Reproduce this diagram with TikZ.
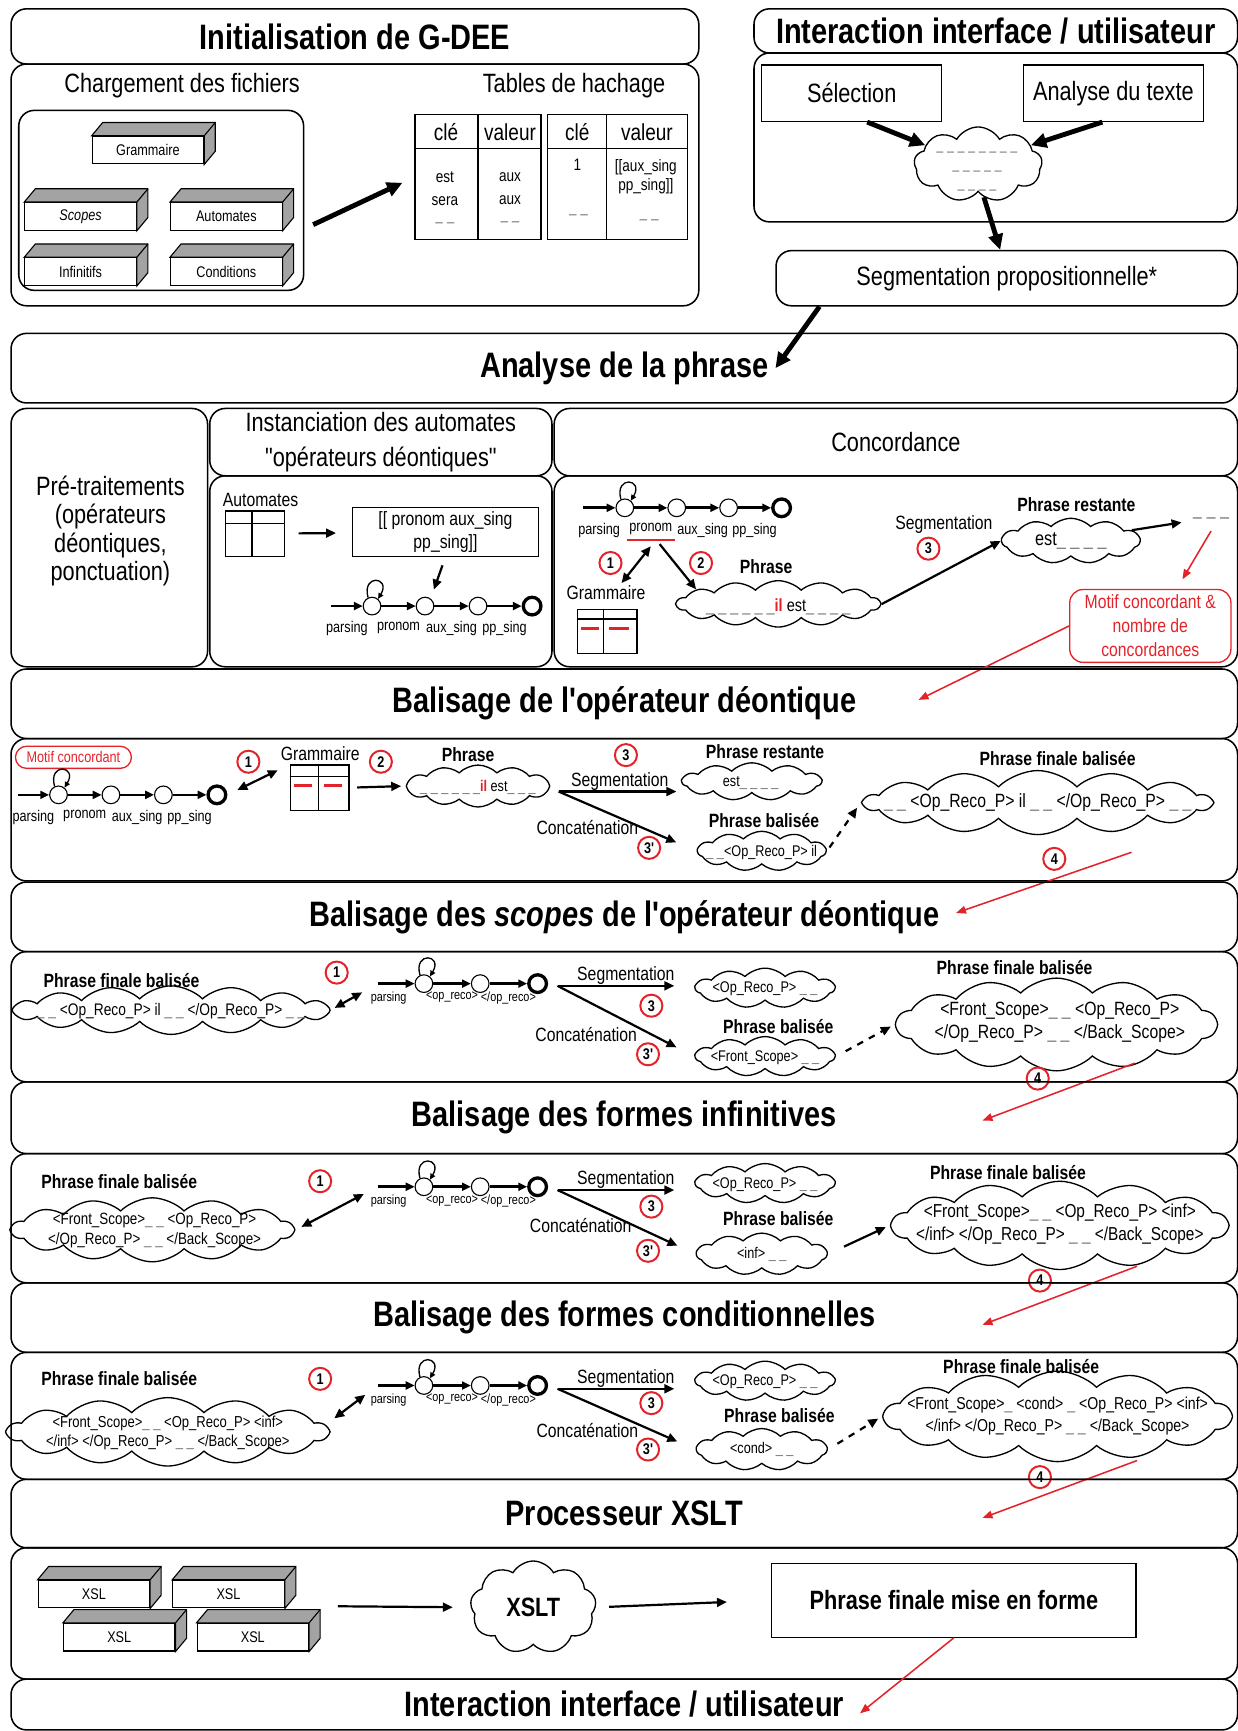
\documentclass[tikz,border=0pt]{standalone}
\usepackage{fontspec}
\setmainfont{Liberation Sans}[FakeStretch=0.82, Ligatures=TeXOff]
\usepackage{xcolor}
\usepackage{tikz}
\usetikzlibrary{arrows.meta,positioning,fit,shapes.symbols}
\definecolor{accent}{HTML}{E3232A}
\definecolor{shade}{HTML}{A3A3A3}
\definecolor{muted}{HTML}{7A7A7A}

\newcommand{\gaps}[1]{\textcolor{muted}{#1}}
\newcommand{\boxdepth}[1]{%
  \filldraw[fill=shade, line width=0.5pt] (#1.north west) -- ++(10,-12)
    -- ([shift={(10,-12)}]#1.north east) -- ([shift={(10,-12)}]#1.south east)
    -- (#1.south east) -- (#1.north east) -- cycle;
  \draw[line width=0.5pt] (#1.north east) -- ++(10,-12);}

\begin{document}
\begin{tikzpicture}[x=0.5pt, y=-0.5pt,
    panel/.style={draw, line width=0.7pt, rounded corners=7pt, inner sep=0pt},
    plainbox/.style={draw, line width=0.6pt, inner sep=0pt},
    title/.style={font=\fontsize{16}{19}\selectfont\bfseries, inner sep=0pt},
    heading/.style={font=\fontsize{12}{14}\selectfont, inner sep=0pt},
    colhead/.style={font=\fontsize{10.5}{12}\selectfont, inner sep=0pt},
    cell/.style={font=\fontsize{7.5}{10.25}\selectfont, align=center, inner sep=0pt},
    lbl/.style={font=\fontsize{8.7}{10.6}\selectfont, inner sep=1pt},
    lblbold/.style={font=\fontsize{8.7}{10.6}\selectfont\bfseries, inner sep=1pt},
    smalltext/.style={font=\fontsize{7}{8.5}\selectfont, inner sep=0pt},
    cloudtext/.style={font=\fontsize{7}{8.5}\selectfont, inner sep=0pt, align=center},
    filebox/.style={draw, fill=white, line width=0.5pt, minimum width=50.5pt,
      minimum height=12.5pt, inner sep=0pt, font=\fontsize{7}{8}\selectfont},
    statenode/.style={circle, draw, fill=white, line width=0.5pt, minimum size=8pt, inner sep=0pt},
    finalstate/.style={statenode, line width=1.5pt},
    autolbl/.style={below=6pt, font=\fontsize{7}{8}\selectfont, inner sep=0.5pt},
    oplbl/.style={below=3pt, font=\fontsize{6}{7}\selectfont, inner sep=0.3pt},
    trans/.style={-{Triangle[length=4pt,width=3.6pt]}, line width=1.2pt},
    looparrow/.style={-{Triangle[length=2.6pt,width=2.4pt]}, line width=0.6pt},
    arrow/.style={-{Triangle[length=4.5pt,width=4pt]}, line width=1pt},
    twoway/.style={{Triangle[length=4.5pt,width=4pt]}-{Triangle[length=4.5pt,width=4pt]}, line width=1pt},
    bigarrow/.style={-{Triangle[length=7pt,width=6.5pt]}, line width=2.2pt},
    redarrow/.style={-{Triangle[length=4.5pt,width=3.5pt]}, draw=accent, line width=0.7pt},
    stepmark/.style={circle, draw=accent, fill=white, line width=0.9pt, minimum size=10pt,
      inner sep=0pt, font=\fontsize{7}{8}\selectfont\bfseries},
    puff/.style={cloud, draw, cloud puffs=11, cloud puff arc=90, cloud ignores aspect,
      inner sep=0pt, line width=0.6pt},
    bigpuff/.style={puff, cloud puffs=14},
    roundpuff/.style={puff, cloud puffs=9, cloud puff arc=120}
  ]
  \useasboundingbox (0,0) rectangle (1121,1568);

  % initialisation
  \node[panel, fit={(10,8) (633,58)}] (inithead) {};
  \node[title] (inittitle) at (inithead) {Initialisation de G-DEE};
  \node[panel, fit={(10,58) (633,277)}] (initbody) {};
  \node[heading] (loadtitle) at (165,78) {Chargement des fichiers};
  \node[heading] (hashtitle) at (520,78) {Tables de hachage};
  \node[panel, fit={(17,100) (275,263)}] (files) {};
  \node[filebox] (grammar) at (134,136) {Grammaire};
  \node[filebox] (scopes) at (73,196) {\itshape Scopes};
  \node[filebox] (automata) at (205,196) {Automates};
  \node[filebox] (infinit) at (73,246) {Infinitifs};
  \node[filebox] (conds) at (205,246) {Conditions};
  \boxdepth{grammar}\boxdepth{scopes}\boxdepth{automata}\boxdepth{infinit}\boxdepth{conds}

  \node[plainbox, fit={(376,104) (490,217)}] (hash1) {};
  \node[plainbox, fit={(496,104) (623,217)}] (hash2) {};
  \draw[line width=0.6pt] (hash1.north) -- (hash1.south);
  \draw[line width=0.6pt] ([yshift=-15.5pt]hash1.north west) -- ([yshift=-15.5pt]hash1.north east);
  \draw[line width=0.6pt] ([xshift=27pt]hash2.north west) -- ([xshift=27pt]hash2.south west);
  \draw[line width=0.6pt] ([yshift=-15.5pt]hash2.north west) -- ([yshift=-15.5pt]hash2.north east);
  \node[colhead] (key1) at (404,120) {clé};
  \node[colhead] (val1) at (462,120) {valeur};
  \node[colhead] (key2) at (523,120) {clé};
  \node[colhead] (val2) at (586,120) {valeur};
  \node[cell] (keys1) at (403,181) {est\\sera\\\gaps{– –}};
  \node[cell] (vals1) at (462,181) {aux\\aux\\\gaps{– –}};
  \node[cell] (keys2) at (523,149) {1};
  \node[cell] (more2) at (524,197) {\gaps{– –}};
  \node[cell, font=\fontsize{7.5}{8.5}\selectfont] (vals2) at (585,160) {[[aux\_sing\\pp\_sing]]};
  \node[cell] (more3) at (588,201) {\gaps{– –}};
  \draw[bigarrow, shorten >=6pt] ([shift={(8,22)}]files.east) -- (hash1.west);

  % interaction interface / utilisateur
  \node[panel, fit={(683,8) (1121,48)}] (uihead) {};
  \node[title] (uititle) at (uihead) {Interaction interface / utilisateur};
  \node[panel, fit={(683,48) (1121,201)}] (uibody) {};
  \node[plainbox, fit={(690,59) (853,110)}] (select) {};
  \node[heading] (selecttext) at (select) {Sélection};
  \node[plainbox, fit={(927,59) (1090,110)}] (analyse) {};
  \node[heading] (analysetext) at (analyse) {Analyse du texte};
  \node[roundpuff, minimum width=58pt, minimum height=34pt] (draft) at (886,149) {};
  \node[text=muted, font=\fontsize{7}{8.75}\selectfont, align=center, inner sep=0pt]
    (drafttext) at (885,157) {– – – – – – – –\\– – – – –\\– – – –};
  \node[panel, fit={(703,227) (1121,277)}] (segprop) {};
  \node[heading] (segproptext) at (segprop) {Segmentation propositionnelle*};
  \draw[bigarrow] ([xshift=7pt]select.south) -- (draft.160);
  \draw[bigarrow] ([xshift=-5pt]analyse.south) -- (draft.20);
  \draw[bigarrow] (draft.-80) -- ([xshift=-3pt]segprop.north);

  % analyse de la phrase
  \node[panel, fit={(10,302) (1121,365)}] (phrasepanel) {};
  \node[title] (phrasetitle) at (phrasepanel) {Analyse de la phrase};
  \draw[bigarrow] ([xshift=20pt]segprop.south west) -- ([xshift=3pt]phrasetitle.east);

  % pre-traitements et instanciation
  \node[panel, fit={(10,370) (188,604)}] (pretreat) {};
  \node[heading, align=center, font=\fontsize{12}{12.9}\selectfont] (pretreattext) at (100,481)
    {Pré-traitements\\(opérateurs\\déontiques,\\ponctuation)};
  \node[panel, fit={(190,370) (500,431)}] (insthead) {};
  \node[heading, align=center, font=\fontsize{12}{16}\selectfont] (insttitle) at (insthead)
    {Instanciation des automates\\"opérateurs déontiques"};
  \node[panel, fit={(190,431) (500,604)}] (instbody) {};
  \node[lbl] (insttabtitle) at (236,453) {Automates};
  \node[plainbox, fit={(204,463) (258,504)}] (insttable) {};
  \draw[line width=0.6pt] ([yshift=-6pt]insttable.north west) -- ([yshift=-6pt]insttable.north east);
  \draw[line width=0.6pt] ([xshift=12.5pt]insttable.north west) -- ([xshift=12.5pt]insttable.south west);
  \node[plainbox, fit={(319,460) (488,504)}] (pattern) {};
  \node[lbl, align=center] (patterntext) at (pattern) {[[ pronom aux\_sing\\pp\_sing]]};
  \draw[arrow, shorten <=6pt, shorten >=7pt] (insttable) -- (pattern);
  \coordinate (instin) at (393,534);
  \draw[arrow, shorten <=4pt] (pattern.south) -- (instin);

  \coordinate (ia0) at (300,549);
  \node[statenode] (ia1) at (337,549) {};
  \node[statenode, right=15.5pt of ia1] (ia2) {};
  \node[statenode, right=15.5pt of ia2] (ia3) {};
  \node[finalstate, right=15.5pt of ia3] (ia4) {};
  \draw[trans] (ia0) -- node[autolbl] (ial0) {parsing} (ia1);
  \draw[trans] (ia1) -- node[autolbl] (ial1) {pronom} (ia2);
  \draw[trans] (ia2) -- node[autolbl] (ial2) {aux\_sing} (ia3);
  \draw[trans] (ia3) -- node[autolbl] (ial3) {pp\_sing} (ia4);
  \draw[looparrow] (ia1.115) .. controls +(-6,-22) and +(12,-20) .. (ia1.50);

  % concordance
  \node[panel, fit={(502,370) (1121,431)}] (conchead) {};
  \node[heading] (conctitle) at (conchead) {Concordance};
  \node[panel, fit={(502,431) (1121,604)}] (concbody) {};
  \coordinate (ca0) at (528,460);
  \node[statenode] (ca1) at (566,460) {};
  \node[statenode, right=15pt of ca1] (ca2) {};
  \node[statenode, right=15pt of ca2] (ca3) {};
  \node[finalstate, right=15pt of ca3] (ca4) {};
  \draw[trans] (ca0) -- node[autolbl] (cal0) {parsing} (ca1);
  \draw[trans] (ca1) -- node[autolbl] (cal1) {pronom} (ca2);
  \draw[trans] (ca2) -- node[autolbl] (cal2) {aux\_sing} (ca3);
  \draw[trans] (ca3) -- node[autolbl] (cal3) {pp\_sing} (ca4);
  \draw[looparrow] (ca1.115) .. controls +(-6,-22) and +(12,-20) .. (ca1.50);
  \draw[accent, line width=1pt] ([yshift=-1pt]cal1.south west) -- ([yshift=-1pt]cal1.south east);

  \node[stepmark] (cstep1) at (553,510) {1};
  \node[stepmark] (cstep2) at (635,510) {2};
  \node[lbl] (cgram) at (549,537) {Grammaire};
  \node[plainbox, fit={(523,552) (577,592)}] (cgtable) {};
  \draw[line width=0.6pt] ([yshift=-4.7pt]cgtable.north west) -- ([yshift=-4.7pt]cgtable.north east);
  \draw[line width=0.6pt] ([xshift=12pt]cgtable.north west) -- ([xshift=12pt]cgtable.south west);
  \draw[accent, line width=1.3pt] ([shift={(4,18)}]cgtable.north west) -- ++(16,0);
  \draw[accent, line width=1.3pt] ([shift={(29,18)}]cgtable.north west) -- ++(18,0);
  \node[lblbold] (cphrasetitle) at (694,513) {Phrase};
  \node[bigpuff, minimum width=92pt, minimum height=21pt] (cphrase) at (705,547) {};
  \node[cloudtext, font=\fontsize{8}{9}\selectfont] (cphrasetext) at (705,550)
    {\gaps{\_ \_ \_ \_ \_ \_}\textcolor{accent}{\bfseries il} est\gaps{\_ \_ \_ \_}};
  \draw[twoway] ([yshift=-4pt]cal1.south) -- ([xshift=7pt]cgram.north);
  \draw[arrow] ([shift={(8,6)}]cal1.south) -- (cphrase.170);

  \node[lbl] (cseglbl) at (855,475) {Segmentation};
  \node[stepmark] (cstep3) at (841,497) {3};
  \node[lblbold] (cresttitle) at (975,457) {Phrase restante};
  \node[puff, minimum width=62.5pt, minimum height=20.5pt] (crest) at (970,490) {};
  \node[cloudtext, font=\fontsize{9}{10}\selectfont] (cresttext) at (970,490) {est\gaps{\_ \_ \_ \_}};
  \draw[arrow] (cphrase.east) -- (crest.west);
  \node[text=muted, font=\fontsize{9}{10}\selectfont, inner sep=1pt] (crestmore) at (1097,472) {– – –};
  \draw[arrow, shorten >=4pt] (crest.10) -- (crestmore.west);
  \node[draw=accent, rounded corners=6pt, line width=0.6pt, inner sep=0pt,
    fit={(969,534) (1115,600)}] (motif) {};
  \node[lbl, text=accent, align=center, font=\fontsize{8.7}{10.8}\selectfont] (motiftext) at (motif)
    {Motif concordant \&\\nombre de\\concordances};
  \draw[redarrow, shorten >=5pt] ([yshift=-2pt]crestmore.south) -- ([xshift=12pt]motif.north);
  \coordinate (opin) at (832,634);
  \draw[redarrow] (motif.west) -- (opin);

  % balisage de l'operateur deontique
  \node[panel, fit={(10,606) (1121,669)}] (ophead) {};
  \node[title] (optitle) at (ophead) {Balisage de l'opérateur déontique};
  \node[panel, fit={(10,669) (1121,798)}] (opbody) {};
  \node[draw=accent, rounded corners=5pt, line width=0.6pt, inner sep=0pt,
    fit={(14,676) (119,696)}] (opmotif) {};
  \node[smalltext, text=accent] (opmotiftext) at (opmotif) {Motif concordant};
  \coordinate (oa0) at (16,720);
  \node[statenode] (oa1) at (53,720) {};
  \node[statenode, right=15.25pt of oa1] (oa2) {};
  \node[statenode, right=15.25pt of oa2] (oa3) {};
  \node[finalstate, right=15.25pt of oa3] (oa4) {};
  \draw[trans] (oa0) -- node[autolbl] (oal0) {parsing} (oa1);
  \draw[trans] (oa1) -- node[autolbl] (oal1) {pronom} (oa2);
  \draw[trans] (oa2) -- node[autolbl] (oal2) {aux\_sing} (oa3);
  \draw[trans] (oa3) -- node[autolbl] (oal3) {pp\_sing} (oa4);
  \draw[looparrow] (oa1.115) .. controls +(-6,-22) and +(12,-20) .. (oa1.50);

  \node[stepmark] (opstep1) at (225,690) {1};
  \node[lbl] (opgram) at (290,683) {Grammaire};
  \node[plainbox, fit={(263,693) (316,734)}] (opgtable) {};
  \draw[line width=0.6pt] ([yshift=-5.5pt]opgtable.north west) -- ([yshift=-5.5pt]opgtable.north east);
  \draw[line width=0.6pt] ([xshift=13pt]opgtable.north west) -- ([xshift=13pt]opgtable.south west);
  \draw[accent, line width=1.3pt] ([shift={(4,19)}]opgtable.north west) -- ++(16,0);
  \draw[accent, line width=1.3pt] ([shift={(31,19)}]opgtable.north west) -- ++(16,0);
  \draw[twoway, shorten <=5pt, shorten >=6pt] (oa4.east) -- (opgtable.north west);
  \node[stepmark] (opstep2) at (345,690) {2};
  \node[lblbold] (opphrasetitle) at (424,684) {Phrase};
  \node[puff, cloud puffs=12, minimum width=65pt, minimum height=19pt] (opphrase) at (433,712) {};
  \node[cloudtext] (opphrasetext) at (433,713)
    {\gaps{\_ \_ \_ \_ \_ \_}\textcolor{accent}{\bfseries il} est\gaps{\_ \_ \_}};
  \draw[arrow, shorten <=3.5pt, shorten >=2pt] (opgtable.east) -- (opphrase.west);

  \coordinate (opsplit) at (506,717);
  \node[lblbold] (oprestitle) at (693,681) {Phrase restante};
  \node[puff, minimum width=63pt, minimum height=17pt] (oprest) at (681,708) {};
  \node[cloudtext] (oprestext) at (680,709) {est\gaps{\_ \_ \_ \_}};
  \node[lblbold] (opbaltitle) at (692,743) {Phrase balisée};
  \node[puff, minimum width=58pt, minimum height=18pt] (opbal) at (690,771) {};
  \node[cloudtext] (opbaltext) at (690,772) {\gaps{\_ \_}<Op\_Reco\_P> il};
  \draw[arrow, shorten >=2pt] (opsplit) -- node[lbl, above=-1pt] (opseglbl) {Segmentation} (oprest.west |- opsplit);
  \draw[arrow, shorten >=10pt] (opsplit) -- (opbal.west);
  \node[lbl] (opcatlbl) at (532,750) {Concaténation};
  \node[stepmark] (opstep3) at (567,684) {3};
  \node[stepmark] (opstep3b) at (588,768) {3'};
  \node[lblbold] (opfinaltitle) at (958,687) {Phrase finale balisée};
  \node[bigpuff, minimum width=157pt, minimum height=29pt] (opfinal) at (940,727) {};
  \node[cloudtext, font=\fontsize{8.7}{10}\selectfont] (opfinaltext) at (940,727)
    {\gaps{\_ \_} <Op\_Reco\_P> il \gaps{\_ \_} </Op\_Reco\_P> \gaps{\_ \_}};
  \draw[arrow, dashed, shorten <=2pt, shorten >=3pt] (opbal.east) -- (opfinal.west);
  \coordinate (opnext) at (1025,772);
  \coordinate (scentry) at (866,827);
  \draw[redarrow] (opnext) -- (scentry);
  \node[stepmark] (opstep4) at (955,778) {4};

  % balisage des scopes
  \node[panel, fit={(10,799) (1121,862)}] (schead) {};
  \node[title] (sctitle) at (schead) {Balisage des \textit{scopes} de l'opérateur déontique};
  \node[panel, fit={(10,862) (1121,980)}] (scbody) {};
  \node[lblbold] (scintitle) at (110,888) {Phrase finale balisée};
  \node[bigpuff, cloud puffs=16, minimum width=144pt, minimum height=22pt] (scinput) at (155,915) {};
  \node[cloudtext, font=\fontsize{7.6}{9}\selectfont] (scinputtext) at (155,916)
    {\gaps{\_ \_} <Op\_Reco\_P> il \gaps{\_ \_} </Op\_Reco\_P> \gaps{\_ \_}};
  \node[stepmark] (scstep1) at (305,881) {1};
  \coordinate (sca0) at (342,891);
  \node[statenode] (sca1) at (384,891) {};
  \node[statenode, right=17pt of sca1] (sca2) {};
  \node[finalstate, right=17pt of sca2] (sca3) {};
  \draw[trans] (sca0) -- node[oplbl, pos=0.3] (scal0) {parsing} (sca1);
  \draw[trans] (sca1) -- node[oplbl] (scal1) {<op\_reco>} (sca2);
  \draw[trans] (sca2) -- node[oplbl] (scal2) {</op\_reco>} (sca3);
  \draw[looparrow] (sca1.115) .. controls +(-6,-22) and +(12,-20) .. (sca1.50);
  \draw[twoway, shorten <=2pt, shorten >=8pt] (scinput.east) -- (sca0);

  \coordinate (scsplit) at (505,893);
  \node[puff, minimum width=63pt, minimum height=18pt] (screst) at (693,895) {};
  \node[cloudtext] (screstext) at (693,896) {<Op\_Reco\_P> \gaps{\_ \_}};
  \node[lblbold] (scbaltitle) at (705,930) {Phrase balisée};
  \node[puff, minimum width=63pt, minimum height=18pt] (scbal) at (693,957) {};
  \node[cloudtext] (scbaltext) at (693,958) {<Front\_Scope> \gaps{\_ \_}};
  \draw[arrow, shorten >=9pt] (scsplit) -- node[lbl, above=-1pt] (scseglbl) {Segmentation} (screst.west |- scsplit);
  \draw[arrow, shorten >=9pt] (scsplit) -- (scbal.west);
  \node[lbl] (sccatlbl) at (531,937) {Concaténation};
  \node[stepmark] (scstep3) at (590,911) {3};
  \node[stepmark] (scstep3b) at (587,955) {3'};
  \node[lblbold] (scfinaltitle) at (919,876) {Phrase finale balisée};
  \node[bigpuff, minimum width=145pt, minimum height=42pt] (scfinal) at (957,928) {};
  \node[cloudtext, font=\fontsize{8.7}{10}\selectfont] (scfinaltext) at (960,926)
    {<Front\_Scope>\gaps{\_ \_} <Op\_Reco\_P>\\</Op\_Reco\_P> \gaps{\_ \_} </Back\_Scope>};
  \draw[arrow, dashed, shorten <=5pt, shorten >=2pt] (scbal.east) -- (scfinal.west);
  \coordinate (scnext) at (1028,963);
  \coordinate (infentry) at (890,1015);
  \draw[redarrow] (scnext) -- (infentry);
  \node[stepmark] (scstep4) at (940,977) {4};

  % balisage des formes infinitives
  \node[panel, fit={(10,980) (1121,1045)}] (infhead) {};
  \node[title] (inftitle) at (infhead) {Balisage des formes infinitives};
  \node[panel, fit={(10,1045) (1121,1162)}] (infbody) {};
  \node[lblbold] (infintitle) at (108,1070) {Phrase finale balisée};
  \node[bigpuff, minimum width=127.5pt, minimum height=29pt] (infinput) at (138,1114) {};
  \node[cloudtext, font=\fontsize{7.4}{9}\selectfont] (infinputtext) at (140,1115)
    {<Front\_Scope>\gaps{\_ \_} <Op\_Reco\_P>\\</Op\_Reco\_P> \gaps{\_ \_} </Back\_Scope>};
  \node[stepmark] (infstep1) at (290,1070) {1};
  \coordinate (infa0) at (342,1075);
  \node[statenode] (infa1) at (384,1075) {};
  \node[statenode, right=17pt of infa1] (infa2) {};
  \node[finalstate, right=17pt of infa2] (infa3) {};
  \draw[trans] (infa0) -- node[oplbl, pos=0.3] (infal0) {parsing} (infa1);
  \draw[trans] (infa1) -- node[oplbl] (infal1) {<op\_reco>} (infa2);
  \draw[trans] (infa2) -- node[oplbl] (infal2) {</op\_reco>} (infa3);
  \draw[looparrow] (infa1.115) .. controls +(-6,-22) and +(12,-20) .. (infa1.50);
  \draw[twoway, shorten <=3pt, shorten >=7pt] (infinput.east) -- (infa0);

  \coordinate (infsplit) at (505,1078);
  \node[puff, minimum width=63pt, minimum height=18pt] (infrest) at (693,1072) {};
  \node[cloudtext] (infrestext) at (693,1073) {<Op\_Reco\_P> \gaps{\_ \_}};
  \node[lblbold] (infbaltitle) at (705,1104) {Phrase balisée};
  \node[puff, minimum width=59pt, minimum height=19pt] (infbal) at (690,1136) {};
  \node[cloudtext] (infbaltext) at (690,1136) {<inf> \gaps{\_ \_}};
  \draw[arrow, shorten >=9pt] (infsplit) -- node[lbl, above=-1pt] (infseglbl) {Segmentation} (infrest.west |- infsplit);
  \draw[arrow, shorten >=9pt] (infsplit) -- (infbal.west);
  \node[lbl] (infcatlbl) at (526,1110) {Concaténation};
  \node[stepmark] (infstep3) at (590,1093) {3};
  \node[stepmark] (infstep3b) at (587,1133) {3'};
  \node[lblbold] (inffinaltitle) at (913,1062) {Phrase finale balisée};
  \node[bigpuff, minimum width=152pt, minimum height=40pt] (inffinal) at (960,1110) {};
  \node[cloudtext, font=\fontsize{8.5}{10.5}\selectfont] (inffinaltext) at (960,1109)
    {<Front\_Scope>\gaps{\_ \_} <Op\_Reco\_P> <inf>\\</inf> </Op\_Reco\_P> \gaps{\_ \_} </Back\_Scope>};
  \draw[arrow, shorten <=8pt, shorten >=2pt] (infbal.east) -- (inffinal.west);
  \coordinate (infnext) at (1030,1147);
  \coordinate (condentry) at (890,1200);
  \draw[redarrow] (infnext) -- (condentry);
  \node[stepmark] (infstep4) at (942,1160) {4};

  % balisage des formes conditionnelles
  \node[panel, fit={(10,1162) (1121,1225)}] (condhead) {};
  \node[title] (condtitle) at (condhead) {Balisage des formes conditionnelles};
  \node[panel, fit={(10,1225) (1121,1340)}] (condbody) {};
  \node[lblbold] (condintitle) at (108,1249) {Phrase finale balisée};
  \node[bigpuff, minimum width=145pt, minimum height=31pt] (condinput) at (152,1297) {};
  \node[cloudtext, font=\fontsize{7.2}{8.5}\selectfont] (condinputtext) at (152,1298)
    {<Front\_Scope>\gaps{\_ \_} <Op\_Reco\_P> <inf>\\</inf> </Op\_Reco\_P> \gaps{\_ \_} </Back\_Scope>};
  \node[stepmark] (condstep1) at (290,1249) {1};
  \coordinate (conda0) at (342,1255);
  \node[statenode] (conda1) at (384,1255) {};
  \node[statenode, right=17pt of conda1] (conda2) {};
  \node[finalstate, right=17pt of conda2] (conda3) {};
  \draw[trans] (conda0) -- node[oplbl, pos=0.3] (condal0) {parsing} (conda1);
  \draw[trans] (conda1) -- node[oplbl] (condal1) {<op\_reco>} (conda2);
  \draw[trans] (conda2) -- node[oplbl] (condal2) {</op\_reco>} (conda3);
  \draw[looparrow] (conda1.115) .. controls +(-6,-22) and +(12,-20) .. (conda1.50);
  \draw[twoway, shorten <=2pt, shorten >=7pt] ([yshift=5pt]condinput.east) -- (conda0);

  \coordinate (condsplit) at (505,1258);
  \node[puff, minimum width=63pt, minimum height=18pt] (condrest) at (693,1251) {};
  \node[cloudtext] (condrestext) at (693,1252) {<Op\_Reco\_P> \gaps{\_ \_}};
  \node[lblbold] (condbaltitle) at (706,1282) {Phrase balisée};
  \node[puff, minimum width=59pt, minimum height=19pt] (condbal) at (690,1313) {};
  \node[cloudtext] (condbaltext) at (690,1313) {<cond> \gaps{\_ \_}};
  \draw[arrow, shorten >=9pt] (condsplit) -- node[lbl, above=-1pt] (condseglbl) {Segmentation} (condrest.west |- condsplit);
  \draw[arrow, shorten >=9pt] (condsplit) -- (condbal.west);
  \node[lbl] (condcatlbl) at (532,1296) {Concaténation};
  \node[stepmark] (condstep3) at (590,1271) {3};
  \node[stepmark] (condstep3b) at (587,1313) {3'};
  \node[lblbold] (condfinaltitle) at (925,1238) {Phrase finale balisée};
  \node[bigpuff, minimum width=157pt, minimum height=41pt] (condfinal) at (958,1283) {};
  \node[cloudtext, font=\fontsize{7.8}{10}\selectfont] (condfinaltext) at (958,1283)
    {<Front\_Scope>\gaps{\_} <cond> \gaps{\_} <Op\_Reco\_P> <inf>\\</inf> </Op\_Reco\_P> \gaps{\_ \_} </Back\_Scope>};
  \draw[arrow, dashed, shorten <=5pt, shorten >=2pt] (condbal.east) -- (condfinal.west);
  \coordinate (condnext) at (1030,1323);
  \coordinate (xslentry) at (890,1375);
  \draw[redarrow] (condnext) -- (xslentry);
  \node[stepmark] (condstep4) at (942,1338) {4};

  % processeur XSLT
  \node[panel, fit={(10,1340) (1121,1402)}] (xslhead) {};
  \node[title] (xsltitle) at (xslhead) {Processeur XSLT};
  \node[panel, fit={(10,1402) (1121,1521)}] (xslbody) {};
  \node[filebox] (xsl1) at (85,1444) {XSL};
  \node[filebox] (xsl2) at (207,1444) {XSL};
  \boxdepth{xsl1}\boxdepth{xsl2}
  \node[filebox] (xsl3) at (108,1483) {XSL};
  \node[filebox] (xsl4) at (229,1483) {XSL};
  \boxdepth{xsl3}\boxdepth{xsl4}
  \coordinate (xslin) at (306,1455);
  \node[roundpuff, minimum width=57pt, minimum height=42pt] (xslt) at (483,1456) {};
  \node[font=\fontsize{12}{14}\selectfont\bfseries, inner sep=0pt] (xslttext) at (483,1456) {XSLT};
  \node[plainbox, fit={(699,1416) (1029,1483)}] (layout) {};
  \node[font=\fontsize{12}{14}\selectfont\bfseries, inner sep=0pt] (layouttext) at (layout)
    {Phrase finale mise en forme};
  \draw[arrow, shorten >=8pt] (xslin) -- (xslt.west);
  \draw[arrow, shorten <=6pt, shorten >=20pt] (xslt.east) -- (layout.west);

  % retour interface
  \node[panel, fit={(10,1521) (1121,1567)}] (uifoot) {};
  \node[title] (uifoottitle) at (uifoot) {Interaction interface / utilisateur};
  \coordinate (uiin) at (779,1552);
  \draw[redarrow] (layout.south) -- (uiin);
\end{tikzpicture}
\end{document}
